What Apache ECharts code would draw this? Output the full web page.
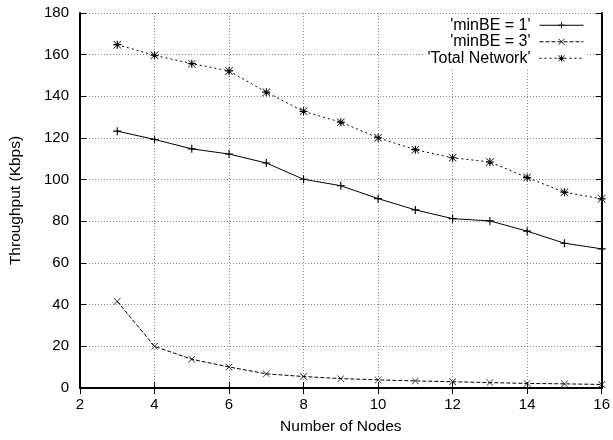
<!DOCTYPE html>
<html>
<head>
<meta charset="utf-8">
<script src="https://cdn.jsdelivr.net/npm/echarts@6/dist/echarts.min.js"></script>
<style>
html,body{margin:0;padding:0;background:#fff;}
#c{width:613px;height:440px;}
</style>
</head>
<body>
<div id="c"></div>
<script>
var nodes = [3, 4, 5, 6, 7, 8, 9, 10, 11, 12, 13, 14, 15, 16];
var minBE1 = [123.3, 119.3, 114.8, 112.3, 108.0, 100.2, 97.1, 90.9, 85.5, 81.3, 80.2, 75.3, 69.5, 66.8];
var minBE3 = [41.6, 20.0, 13.8, 10.1, 6.8, 5.5, 4.5, 3.9, 3.4, 3.0, 2.6, 2.2, 2.0, 1.7];
var totalNet = [164.8, 159.7, 155.7, 152.2, 142.0, 132.8, 127.6, 120.1, 114.4, 110.5, 108.5, 101.0, 94.0, 90.8];
var seriesNames = ["'minBE = 1'", "'minBE = 3'", "'Total Network'"];
var xTitle = 'Number of Nodes';
var yTitle = 'Throughput (Kbps)';

function pairs(ys) { return nodes.map(function (x, i) { return [x, ys[i]]; }); }

var FONT = 'Liberation Sans';
var FS = 15;
var FT = 15.5;
var FL = 16;
var plusSym = 'path://M0,4.3H10V5.7H0Z M4.3,0H5.7V10H4.3Z';
var crossSym = 'path://M0.6,0L5,4.4L9.4,0L10,0.6L5.6,5L10,9.4L9.4,10L5,5.6L0.6,10L0,9.4L4.4,5L0,0.6Z';
var starSym = 'path://M0,4.3H10V5.7H0Z M4.3,0H5.7V10H4.3Z M0.6,0L5,4.4L9.4,0L10,0.6L5.6,5L10,9.4L9.4,10L5,5.6L0.6,10L0,9.4L4.4,5L0,0.6Z';

var chart = echarts.init(document.getElementById('c'), null, {renderer: 'canvas'});
var tickStyle = {show: true, inside: true, length: 6, lineStyle: {color: '#000', width: 1}};
var gridLine = {show: true, lineStyle: {color: '#888', type: [1, 2], width: 1}};
chart.setOption({
  animation: false,
  backgroundColor: '#fff',
  textStyle: {fontFamily: FONT},
  grid: {left: 79, right: 10, top: 13, bottom: 52, containLabel: false},
  legend: {
    orient: 'vertical', right: 27, top: 15, align: 'right',
    itemWidth: 44, itemHeight: 8, itemGap: 0, padding: [2, 2],
    backgroundColor: '#fff',
    lineStyle: {width: 1},
    textStyle: {fontFamily: FONT, fontSize: FL, color: '#000', lineHeight: 16.5, padding: [0, 4, 0, 0]},
    data: seriesNames
  },
  xAxis: [{
    type: 'value', min: 2, max: 16, interval: 2,
    name: xTitle, nameLocation: 'middle', nameGap: 31,
    nameTextStyle: {fontFamily: FONT, fontSize: FT, color: '#000'},
    axisLine: {show: true, lineStyle: {color: '#000', width: 2}},
    axisTick: tickStyle,
    axisLabel: {fontFamily: FONT, fontSize: FS, color: '#000', margin: 9},
    splitLine: gridLine
  }, {
    type: 'value', min: 2, max: 16, interval: 2, position: 'top',
    axisLine: {show: true, lineStyle: {color: '#000', width: 2}},
    axisTick: tickStyle, axisLabel: {show: false}, splitLine: {show: false}
  }],
  yAxis: [{
    type: 'value', min: 0, max: 180, interval: 20,
    name: yTitle, nameLocation: 'middle', nameGap: 56,
    nameTextStyle: {fontFamily: FONT, fontSize: FT, color: '#000'},
    axisLine: {show: true, lineStyle: {color: '#000', width: 2}},
    axisTick: tickStyle,
    axisLabel: {fontFamily: FONT, fontSize: FS, color: '#000', margin: 11},
    splitLine: gridLine
  }, {
    type: 'value', min: 0, max: 180, interval: 20, position: 'right',
    axisLine: {show: true, lineStyle: {color: '#000', width: 2}},
    axisTick: tickStyle, axisLabel: {show: false}, splitLine: {show: false}
  }],
  series: [{
    name: seriesNames[0], type: 'line', data: pairs(minBE1),
    symbol: plusSym, symbolSize: 8, showAllSymbol: true,
    lineStyle: {color: '#000', width: 1, type: 'solid'},
    itemStyle: {color: '#000'}, z: 3
  }, {
    name: seriesNames[1], type: 'line', data: pairs(minBE3),
    symbol: crossSym, symbolSize: 7, showAllSymbol: true,
    lineStyle: {color: '#000', width: 1, type: [4, 2]},
    itemStyle: {color: '#000'}, z: 3
  }, {
    name: seriesNames[2], type: 'line', data: pairs(totalNet),
    symbol: starSym, symbolSize: 8, showAllSymbol: true,
    lineStyle: {color: '#000', width: 1, type: [2, 3]},
    itemStyle: {color: '#000'}, z: 3
  }]
});
</script>
</body>
</html>
